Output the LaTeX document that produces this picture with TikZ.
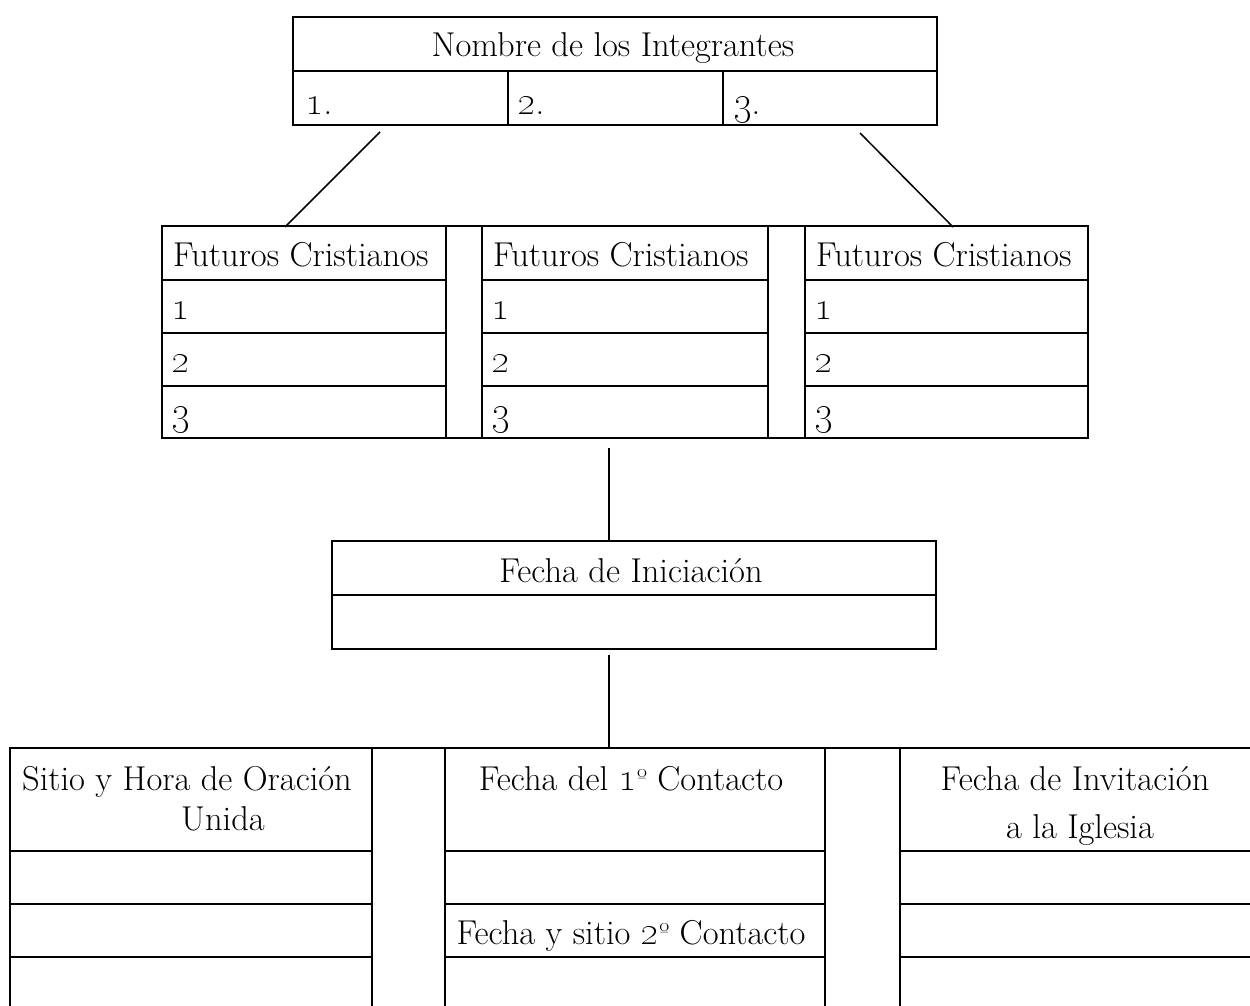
\documentclass[tikz,border=0pt]{standalone}
\usetikzlibrary{calc}
\newcommand\mycell[5]{\node[cellbox, minimum width={(#4-#2)*1pt}, minimum height={(#5-#3)*1pt}] (#1) at ({(#2+#4)/2},{(#3+#5)/2}) {};}
\newcommand\os[1]{\scalebox{1.15}{\oldstylenums{#1}}}
\newcommand\ordo{\raisebox{0.2ex}{\scalebox{0.75}{º}}}
\begin{document}
\begin{tikzpicture}[x=1pt,y=-1pt,
  cellbox/.style={draw, line width=2.4pt, inner sep=0pt, outer sep=0pt},
  conn/.style={line width=1.5pt},
  lbl/.style={inner sep=0pt, anchor=base, font=\fontsize{34.5}{40}\selectfont},
  lblw/.style={lbl, anchor=base west}]
\useasboundingbox (0,0) rectangle (1250,1006);
\clip (0,0) rectangle (1250,1006);
% top box
\mycell{tH}{293}{17}{937}{71}
\mycell{tA}{293}{71}{508}{125}
\mycell{tB}{508}{71}{723}{125}
\mycell{tC}{723}{71}{937}{125}
\node[lbl] (tHt) at (613,57) {Nombre de los Integrantes};
\node[lblw] (tAt) at (305,115) {\os{1}.};
\node[lblw] (tBt) at (517,115) {\os{2}.};
\node[lblw] (tCt) at (733,115) {\os{3}.};
% futuros tables
\mycell{gA}{446}{226}{482}{438}
\mycell{gB}{768}{226}{805}{438}
\foreach \n/\xa/\xb in {fA/162/446, fB/482/768, fC/805/1088}{
  \mycell{\n H}{\xa}{226}{\xb}{280}
  \mycell{\n 1}{\xa}{280}{\xb}{333}
  \mycell{\n 2}{\xa}{333}{\xb}{386}
  \mycell{\n 3}{\xa}{386}{\xb}{438}
  \node[lblw] (\n Ht) at (\xa+11,266) {Futuros Cristianos};
  \node[lblw] (\n 1t) at (\xa+9,319) {\os{1}};
  \node[lblw] (\n 2t) at (\xa+9,372) {\os{2}};
  \node[lblw] (\n 3t) at (\xa+9,424) {\os{3}};
}
% fecha box
\mycell{iH}{332}{541}{936}{595}
\mycell{iB}{332}{595}{936}{649}
\node[lbl] (iHt) at (631,582) {Fecha de Iniciación};
% bottom tables
\mycell{gC}{372}{748}{445}{1020}
\mycell{gD}{825}{748}{900}{1020}
\foreach \n/\xa/\xb in {bA/10/372, bB/445/825, bC/900/1262}{
  \mycell{\n H}{\xa}{748}{\xb}{851}
  \mycell{\n 1}{\xa}{851}{\xb}{904}
  \mycell{\n 2}{\xa}{904}{\xb}{957}
  \mycell{\n 3}{\xa}{957}{\xb}{1020}
}
\node[lbl] (bAt1) at (187,790) {Sitio y Hora de Oración};
\node[lbl] (bAt2) at (223,830) {Unida};
\node[lbl] (bBt1) at (631,790) {Fecha del \os{1}\ordo\ Contacto};
\node[lbl] (bBt2) at (631,944) {Fecha y sitio \os{2}\ordo\ Contacto};
\node[lbl] (bCt1) at (1075,790) {Fecha de Invitación};
\node[lbl] (bCt2) at (1080,838) {a la Iglesia};
% connectors
\coordinate (d1s) at (380,132);
\coordinate (d1e) at (285,227);
\coordinate (d2s) at (860,133);
\coordinate (d2e) at (953,227);
\coordinate (v1s) at (609,448);
\coordinate (v1e) at (609,541);
\coordinate (v2s) at (609,655);
\coordinate (v2e) at (609,748);
\draw[conn] (d1s) -- (d1e);
\draw[conn] (d2s) -- (d2e);
\draw[conn] (v1s) -- (v1e);
\draw[conn] (v2s) -- (v2e);
\end{tikzpicture}
\end{document}
